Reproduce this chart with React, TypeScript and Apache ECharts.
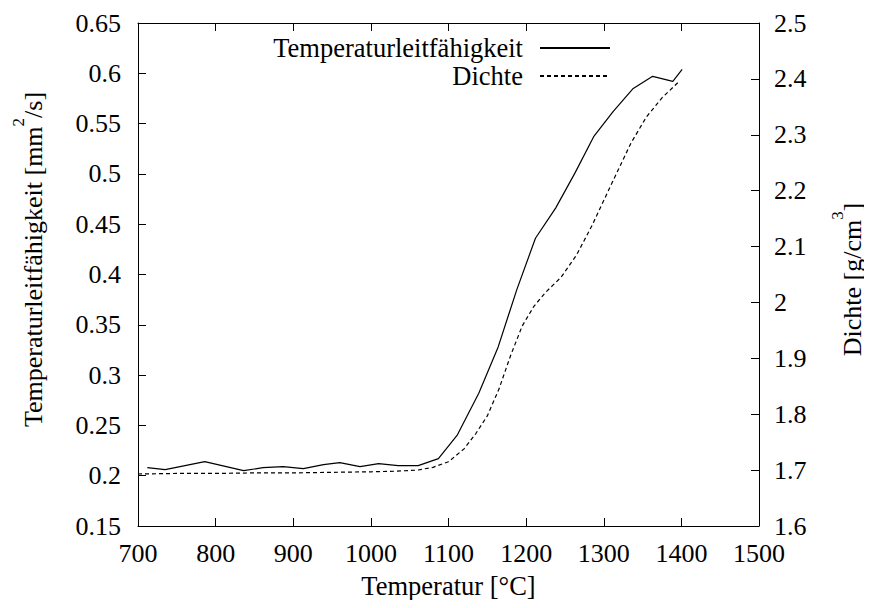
import React, { useEffect, useRef } from "react";
import * as echarts from "echarts";

const tempDiff = [712, 735, 786, 836, 861, 887, 913, 939, 960, 986, 1010, 1035, 1061, 1087, 1111, 1139, 1164, 1188, 1212, 1238, 1263, 1287, 1312, 1338, 1363, 1389, 1401];
const diffusivity = [0.208, 0.206, 0.214, 0.205, 0.208, 0.209, 0.207, 0.211, 0.213, 0.209, 0.212, 0.21, 0.21, 0.217, 0.24, 0.282, 0.328, 0.385, 0.436, 0.466, 0.501, 0.537, 0.562, 0.585, 0.597, 0.592, 0.604];

const tempDens = [700, 750, 800, 850, 900, 950, 1000, 1030, 1060, 1080, 1100, 1120, 1135, 1150, 1165, 1180, 1195, 1210, 1225, 1245, 1265, 1285, 1310, 1335, 1355, 1375, 1396];
const density = [1.693, 1.694, 1.694, 1.695, 1.695, 1.696, 1.697, 1.698, 1.7, 1.705, 1.715, 1.738, 1.765, 1.797, 1.845, 1.905, 1.958, 1.993, 2.018, 2.045, 2.085, 2.138, 2.212, 2.285, 2.332, 2.366, 2.394];

const FONT = "Liberation Serif";
const FS = 26;

export default function App() {
  const ref = useRef<HTMLDivElement>(null);
  useEffect(() => {
    const chart = echarts.init(ref.current!, null, { renderer: "svg" });
    const axisCommon = {
      axisLine: { show: true, lineStyle: { color: "#000", width: 1 } },
      axisTick: { show: true, inside: true, length: 8, lineStyle: { color: "#000" } },
      splitLine: { show: false },
      axisLabel: { color: "#000", fontFamily: FONT, fontSize: FS },
      nameTextStyle: { color: "#000", fontFamily: FONT, fontSize: FS },
    };
    const rich = {
      a: { fontFamily: FONT, fontSize: FS, color: "#000", verticalAlign: "bottom", lineHeight: 36 },
      s: { fontFamily: FONT, fontSize: 17, color: "#000", verticalAlign: "top", lineHeight: 36 },
    };
    chart.setOption({
      animation: false,
      backgroundColor: "#fff",
      textStyle: { fontFamily: FONT },
      grid: { left: 138, right: 113, top: 23, bottom: 82, show: false, containLabel: false, outerBoundsMode: "none" },
      legend: {
        show: true,
        orient: "vertical",
        align: "right",
        right: 256,
        top: 29,
        itemWidth: 70,
        itemHeight: 14,
        itemGap: 0,
        itemStyle: { opacity: 0 },
        textStyle: { color: "#000", fontFamily: FONT, fontSize: 26.5, lineHeight: 28, padding: [0, 12, 0, 0] },
        data: ["Temperaturleitfähigkeit", "Dichte"],
      },
      xAxis: [
        {
          ...axisCommon,
          type: "value",
          min: 700,
          max: 1500,
          interval: 100,
          position: "bottom",
          name: "Temperatur [°C]",
          nameLocation: "middle",
          nameGap: 46,
          nameTextStyle: { ...axisCommon.nameTextStyle, fontSize: 26.5 },
          axisLabel: { ...axisCommon.axisLabel, margin: 14, formatter: (v: number) => String(v) },
        },
        {
          ...axisCommon,
          type: "value",
          min: 700,
          max: 1500,
          interval: 100,
          position: "top",
          axisLabel: { show: false },
        },
      ],
      yAxis: [
        {
          ...axisCommon,
          type: "value",
          min: 0.15,
          max: 0.65,
          interval: 0.05,
          position: "left",
          name: "{a|Temperaturleitfähigkeit [mm}{s|2}{a|/s]}",
          nameLocation: "middle",
          nameGap: 92,
          nameTextStyle: { ...axisCommon.nameTextStyle, rich, padding: [0, 0, 0, 30] },
          axisLabel: {
            ...axisCommon.axisLabel,
            margin: 17,
            formatter: (v: number) => String(parseFloat(v.toFixed(2))),
          },
        },
        {
          ...axisCommon,
          type: "value",
          min: 1.6,
          max: 2.5,
          interval: 0.1,
          position: "right",
          name: "{a|Dichte [g/cm}{s|3}{a|]}",
          nameLocation: "middle",
          nameGap: 70,
          nameTextStyle: { ...axisCommon.nameTextStyle, rich, padding: [0, 10, 0, 0] },
          axisLabel: {
            ...axisCommon.axisLabel,
            margin: 15,
            formatter: (v: number) => String(parseFloat(v.toFixed(1))),
          },
        },
      ],
      series: [
        {
          name: "Temperaturleitfähigkeit",
          type: "line",
          xAxisIndex: 0,
          yAxisIndex: 0,
          symbol: "none",
          lineStyle: { color: "#000", width: 1.2 },
          itemStyle: { color: "#000" },
          data: tempDiff.map((t, i) => [t, diffusivity[i]]),
        },
        {
          name: "Dichte",
          type: "line",
          xAxisIndex: 0,
          yAxisIndex: 1,
          symbol: "none",
          lineStyle: { color: "#000", width: 1.2, type: [4, 3] },
          itemStyle: { color: "#000" },
          data: tempDens.map((t, i) => [t, density[i]]),
        },
      ],
    });
    return () => chart.dispose();
  }, []);
  return <div ref={ref} style={{ width: 872, height: 608, margin: -8 }} />;
}
